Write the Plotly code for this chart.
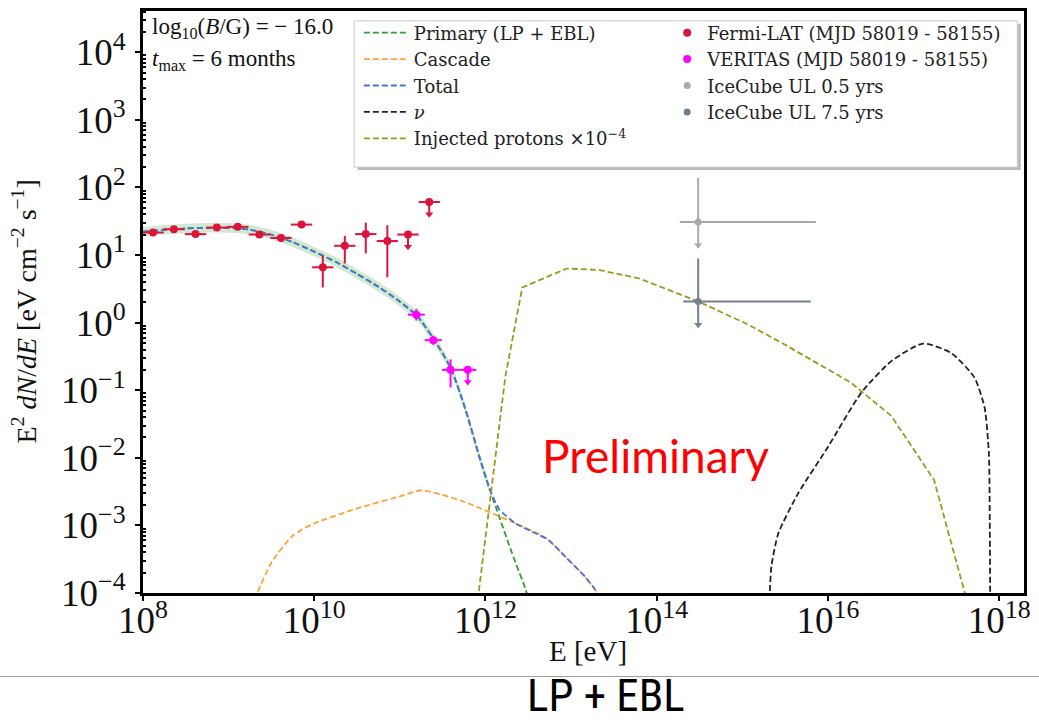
import numpy as np
import plotly.graph_objects as go

# ---------------- data ----------------
# Fermi-LAT points (E in eV, E^2 dN/dE in eV cm^-2 s^-1)
fermi_logE = [8.117, 8.361, 8.614, 8.862, 9.107, 9.359, 9.612, 9.852, 10.10, 10.357, 10.602, 10.854, 11.095, 11.343]
fermi_flux = [21.5, 24.1, 20.4, 25.5, 26.1, 20.1, 17.9, 28.2, 6.58, 13.7, 20.4, 16.1, 20.1, 60.8]
fermi_up   = [22.8, 25.6, 21.8, 27.0, 27.8, 21.5, 19.3, 30.2, 9.77, 19.2, 30.1, 27.6, 20.1, 60.8]
fermi_lo   = [20.3, 22.7, 19.1, 24.0, 24.5, 18.8, 16.6, 26.3, 3.31, 7.5, 10.6, 4.69, 20.1, 60.8]
fermi_ul   = [False] * 12 + [True, True]
fermi_halfbin = 0.125  # decades

# VERITAS points
ver_logE = [11.192, 11.390, 11.592, 11.793]
ver_flux = [1.31, 0.55, 0.20, 0.20]
ver_up   = [1.60, 0.64, 0.286, 0.20]
ver_lo   = [1.07, 0.47, 0.110, 0.20]
ver_ul   = [False, False, False, True]
ver_halfbin = 0.10

# IceCube upper limits
ic_names = ["IceCube UL 0.5 yrs", "IceCube UL 7.5 yrs"]
ic_E     = [3.05e14, 3.05e14]
ic_Elo   = [1.86e14, 2.04e14]
ic_Ehi   = [7.24e15, 6.31e15]
ic_flux  = [30.9, 2.06]
ic_top   = [138.0, 8.9]
ic_tip   = [14.0, 0.93]

# model curves (log10 E, log10 E^2 dN/dE)
prim_logE = [8.0, 8.25, 8.5, 8.75, 9.0, 9.25, 9.5, 9.75, 10.0, 10.25, 10.5, 10.75, 11.0, 11.2, 11.4,
             11.6, 11.77, 11.93, 12.04, 12.16, 12.31, 12.47, 12.49]
prim_logF = [1.345, 1.372, 1.392, 1.402, 1.400, 1.375, 1.30, 1.19, 1.05, 0.90, 0.72, 0.53, 0.31, 0.10, -0.25,
             -0.69, -1.30, -1.99, -2.43, -2.87, -3.41, -3.95, -4.05]

tot_logE = prim_logE[:19] + [12.16, 12.35, 12.54, 12.74, 12.93, 13.16, 13.28, 13.31]
tot_logF = prim_logF[:19] + [-2.76, -2.97, -3.09, -3.22, -3.46, -3.755, -3.95, -4.05]

casc_logE = [9.30, 9.335, 9.5, 9.75, 10.0, 10.5, 11.0, 11.25, 11.5, 11.75, 12.04, 12.35, 12.7, 12.93, 13.16, 13.28, 13.31]
casc_logF = [-4.10, -4.0, -3.55, -3.15, -2.97, -2.75, -2.57, -2.48, -2.55, -2.65, -2.80, -2.97, -3.18, -3.46, -3.755, -3.95, -4.05]

nu_logE = [15.31, 15.32, 15.34, 15.42, 15.65, 16.0, 16.39, 16.74, 17.11, 17.44, 17.71, 17.83, 17.88, 17.89, 17.895]
nu_logF = [-4.10, -4.0, -3.6, -3.12, -2.53, -1.84, -1.035, -0.57, -0.31, -0.45, -0.81, -1.26, -1.94, -2.92, -4.1]

prot_logE = [11.91, 11.92, 12.233, 12.43, 12.95, 13.32, 13.79, 14.485, 15.07, 15.49, 16.27, 16.74, 17.24, 17.59, 17.61]
prot_logF = [-4.1, -4.0, -0.79, 0.52, 0.80, 0.78, 0.656, 0.313, -0.03, -0.32, -0.89, -1.38, -2.33, -3.95, -4.05]

band_halfwidth = 0.07  # decades
band_end = 19  # index in primary curve where the band stops

x_tick_exp = [8, 10, 12, 14, 16, 18]
y_tick_exp = [-4, -3, -2, -1, 0, 1, 2, 3, 4]

# ---------------- colours / styles ----------------
C_FERMI = "#DC143C"
C_VER = "#FF00FF"
C_IC = ["#A9A9A9", "#708090"]
C_PRIM = "#2ca02c"
C_CASC = "#ffa23a"
C_TOT = "#4a72dc"
C_NU = "#222222"
C_PROT = "#9a9a22"
DASH = "6px,3px"
SERIF = "Liberation Serif, DejaVu Serif, serif"
LEGFONT = "DejaVu Serif, serif"

p = lambda a: np.power(10.0, np.array(a, dtype=float))

fig = go.Figure()

# band around primary
bE = p(prim_logE[:band_end])
bF = np.array(prim_logF[:band_end])
fig.add_trace(go.Scatter(x=bE, y=p(bF + band_halfwidth), mode="lines", line=dict(width=0, shape="spline"),
                         showlegend=False, hoverinfo="skip"))
fig.add_trace(go.Scatter(x=bE, y=p(bF - band_halfwidth), mode="lines", line=dict(width=0, shape="spline"),
                         fill="tonexty", fillcolor="rgba(140,200,140,0.40)", showlegend=False, hoverinfo="skip"))

curves = [
    ("Primary (LP + EBL)", prim_logE, prim_logF, C_PRIM, "spline"),
    ("Cascade", casc_logE, casc_logF, C_CASC, "spline"),
    ("Total", tot_logE, tot_logF, C_TOT, "spline"),
    ("<i>ν</i>", nu_logE, nu_logF, C_NU, "spline"),
    ("Injected protons ×10<sup>−4</sup>", prot_logE, prot_logF, C_PROT, "linear"),
]
for i, (name, le, lf, col, shp) in enumerate(curves):
    fig.add_trace(go.Scatter(x=p(le), y=p(lf), mode="lines", name=name,
                             line=dict(color=col, width=1.8, dash=DASH, shape=shp, smoothing=0.6),
                             legend="legend", legendgroup="c%d" % i))


def add_points(name, logE, flux, up, lo, ul, halfbin, col, grp):
    E = p(logE)
    f = np.array(flux)
    ex_hi = E * (10 ** halfbin - 1)
    ex_lo = E * (1 - 10 ** (-halfbin))
    det = [i for i in range(len(E)) if not ul[i]]
    lim = [i for i in range(len(E)) if ul[i]]
    fig.add_trace(go.Scatter(
        x=E[det], y=f[det], mode="markers", name=name, legend="legend2", legendgroup=grp,
        marker=dict(color=col, size=8, symbol="circle"),
        error_x=dict(type="data", symmetric=False, array=ex_hi[det], arrayminus=ex_lo[det],
                     color=col, thickness=2, width=0),
        error_y=dict(type="data", symmetric=False, array=np.array(up)[det] - f[det],
                     arrayminus=f[det] - np.array(lo)[det], color=col, thickness=2, width=0)))
    if lim:
        tip = f[lim] * 10 ** (-0.18)
        fig.add_trace(go.Scatter(
            x=E[lim], y=f[lim], mode="markers", showlegend=False, legendgroup=grp,
            marker=dict(color=col, size=8, symbol="circle"),
            error_x=dict(type="data", symmetric=False, array=ex_hi[lim], arrayminus=ex_lo[lim],
                         color=col, thickness=2, width=0),
            error_y=dict(type="data", symmetric=False, array=np.zeros(len(lim)),
                         arrayminus=f[lim] - tip, color=col, thickness=2, width=0)))
        fig.add_trace(go.Scatter(x=E[lim], y=tip, mode="markers", showlegend=False,
                                 marker=dict(color=col, size=7, symbol="triangle-down"),
                                 hoverinfo="skip"))


add_points("Fermi-LAT (MJD 58019 - 58155)", fermi_logE, fermi_flux, fermi_up, fermi_lo,
           fermi_ul, fermi_halfbin, C_FERMI, "fermi")
add_points("VERITAS (MJD 58019 - 58155)", ver_logE, ver_flux, ver_up, ver_lo,
           ver_ul, ver_halfbin, C_VER, "ver")

for i in range(2):
    fig.add_trace(go.Scatter(
        x=[ic_E[i]], y=[ic_flux[i]], mode="markers", name=ic_names[i], legend="legend2",
        legendgroup="ic%d" % i,
        marker=dict(color=C_IC[i], size=7),
        error_x=dict(type="data", symmetric=False, array=[ic_Ehi[i] - ic_E[i]],
                     arrayminus=[ic_E[i] - ic_Elo[i]], color=C_IC[i], thickness=2, width=0),
        error_y=dict(type="data", symmetric=False, array=[ic_top[i] - ic_flux[i]],
                     arrayminus=[ic_flux[i] - ic_tip[i]], color=C_IC[i], thickness=2, width=0)))
    fig.add_trace(go.Scatter(x=[ic_E[i]], y=[ic_tip[i]], mode="markers", showlegend=False,
                             marker=dict(color=C_IC[i], size=7, symbol="triangle-down"),
                             hoverinfo="skip"))

# ---------------- layout ----------------
axis_common = dict(type="log", showline=True, linecolor="black", linewidth=3, mirror=True,
                   showgrid=False, zeroline=False, ticks="outside", ticklen=5, tickwidth=1.5,
                   tickcolor="black")

fig.update_xaxes(range=[8, 18.29], tickmode="array",
                 tickvals=[10.0 ** e for e in x_tick_exp],
                 ticktext=["10<sup>%d</sup>" % e for e in x_tick_exp],
                 tickfont=dict(family=SERIF, size=37, color="#111"),
                 ticklabelstandoff=-12,
                 **axis_common)
fig.update_yaxes(range=[-4, 4.61], tickmode="array",
                 tickvals=[10.0 ** e for e in y_tick_exp],
                 ticktext=["10<sup>%s</sup>" % (str(e).replace("-", "−")) for e in y_tick_exp],
                 tickfont=dict(family=SERIF, size=37, color="#111"),
                 ticklabelstandoff=2,
                 minor=dict(ticks="inside", ticklen=3, tickcolor="black",
                            tickvals=[m * 10.0 ** e for e in range(-4, 5) for m in range(2, 10)]),
                 **axis_common)

fig.update_layout(
    width=1039, height=723,
    margin=dict(l=143, r=12, t=8, b=130),
    paper_bgcolor="white", plot_bgcolor="white",
    showlegend=True,
    legend=dict(x=0.245, y=0.994, xanchor="left", yanchor="top", bgcolor="rgba(0,0,0,0)",
                font=dict(family=LEGFONT, size=18, color="#222"), tracegroupgap=0,
                itemwidth=45),
    legend2=dict(x=0.595, y=0.994, xanchor="left", yanchor="top", bgcolor="rgba(0,0,0,0)",
                 font=dict(family=LEGFONT, size=18, color="#222"), tracegroupgap=0,
                 itemwidth=30),
    shapes=[
        dict(type="rect", xref="paper", yref="paper", x0=0.2436, x1=0.9964, y0=0.7268, y1=0.978,
             fillcolor="#bbbbbb", line=dict(width=0), layer="above"),
        dict(type="rect", xref="paper", yref="paper", x0=0.2396, x1=0.9924, y0=0.7318, y1=0.983,
             fillcolor="white", line=dict(color="#cccccc", width=1), layer="above"),
        dict(type="line", xref="paper", yref="paper", x0=-0.18, x1=1.03, y0=-0.1436, y1=-0.1436,
             line=dict(color="#999999", width=1)),
    ],
    annotations=[
        dict(xref="paper", yref="paper", x=0.008, y=0.97, xanchor="left", yanchor="middle",
             text="log<sub>10</sub>(<i>B</i>/G) = − 16.0", showarrow=False,
             font=dict(family=SERIF, size=23, color="#111")),
        dict(xref="paper", yref="paper", x=0.008, y=0.915, xanchor="left", yanchor="middle",
             text="<i>t</i><sub>max</sub> = 6 months", showarrow=False,
             font=dict(family=SERIF, size=23, color="#111")),
        dict(xref="paper", yref="paper", x=0.5815, y=0.2357, xanchor="center", yanchor="middle",
             text="Preliminary", showarrow=False,
             font=dict(family="Lato, Open Sans, sans-serif", size=46, color="#ff0000")),
        dict(xref="paper", yref="paper", x=0.505, y=-0.1, xanchor="center", yanchor="middle",
             text="E [eV]", showarrow=False,
             font=dict(family=SERIF, size=29, color="#111")),
        dict(xref="paper", yref="paper", x=-0.135, y=0.484, xanchor="center", yanchor="middle",
             textangle=-90,
             text="E<sup>2</sup> <i>dN</i>/<i>dE</i> [eV cm<sup>−2</sup> s<sup>−1</sup>]",
             showarrow=False, font=dict(family=SERIF, size=28, color="#111")),
        dict(xref="paper", yref="paper", x=0.526, y=-0.128, xanchor="center", yanchor="top",
             text="LP + EBL", showarrow=False,
             font=dict(family="Liberation Sans Narrow, Roboto Condensed, Roboto, sans-serif",
                       size=45, color="#000")),
    ],
)

fig.write_html("out.html")
